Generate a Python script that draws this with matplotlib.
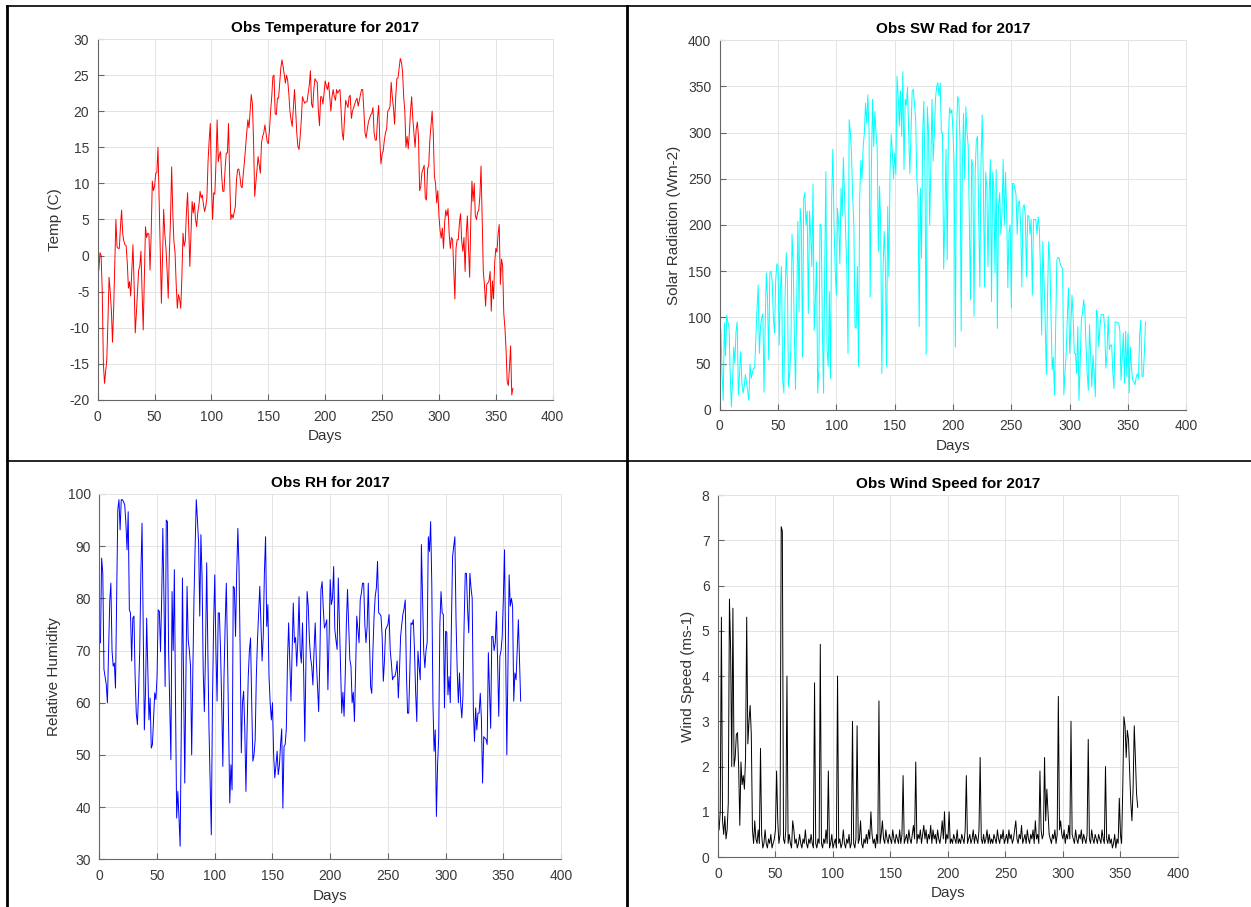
import numpy as np
import matplotlib
matplotlib.use("Agg")
import matplotlib.pyplot as plt
from matplotlib.lines import Line2D

plt.rcParams['font.family'] = ['Liberation Sans', 'DejaVu Sans']
plt.rcParams['axes.unicode_minus'] = False

temp = [
    -2, 0.4, 0, -5, -15, -17.7, -16, -14.4, -9, -3,
    -5, -7.5, -12, -7.5, -1, 5, 1.2, 1, 1, 4,
    6.3, 3, 2, 1.5, 1.4, -1, -4.5, -3.6, -5.6, -2,
    1.5, -4, -10.7, -8, -5, -2, -1.5, 0.6, -5, -10.3,
    -3, 4, 2.5, 3.1, 3, -2, 3, 10.3, 9, 9.6,
    11.4, 11.5, 15, 7.7, 1, -6.6, 0, 6.4, 3, 1,
    -2, -5.9, 0.4, 5, 12.3, 6, 2, 0.4, -4, -7.3,
    -5.4, -6, -7.3, -3, 3.1, 1.3, 2, 6, 8.7, 4,
    -1.5, 3, 7.5, 5.9, 7.3, 5, 4, 6, 7, 8.9,
    8, 8.4, 7, 6.1, 6.8, 8, 13, 16, 18.3, 10,
    5, 8.7, 8.5, 13, 18.8, 13, 14, 14.4, 11, 8.9,
    8.9, 12, 14.2, 14.2, 18.3, 11, 5, 5.7, 5.2, 6,
    6.8, 10.5, 11.9, 12, 11, 9.6, 9.4, 11.4, 13, 15.1,
    17, 18.8, 17.7, 20, 22.3, 21, 16, 8.2, 10, 11.9,
    13.7, 12.5, 11.4, 15.6, 16.5, 17, 18.1, 17, 15.8, 15.5,
    17.4, 20, 22, 24.8, 25, 19.7, 19.5, 21.8, 21.8, 24,
    26, 27.1, 26.2, 25, 23.9, 25, 24.3, 22.5, 20, 18.8,
    17.9, 20.5, 23, 20.2, 17, 15.1, 14.7, 16.5, 18.8, 22,
    21.5, 21.1, 21.3, 21.3, 22.5, 23.6, 25.6, 21, 20.5, 23,
    24.5, 24.2, 24, 20, 18, 22, 22, 21, 22.5, 24.2,
    23.5, 23, 24, 22, 20, 22, 23, 22, 21.5, 23,
    22.5, 22.8, 23, 20, 17, 16, 19, 21.5, 21, 20.5,
    22, 22.2, 19, 20, 20.5, 21, 21.5, 21.8, 20.7, 21.5,
    22.3, 23, 23, 20, 17, 16.3, 17.5, 18.5, 19, 19.5,
    19.7, 20.5, 17, 16, 16, 19, 20.8, 16, 12.7, 14,
    14.5, 16, 17, 17.5, 20, 20.2, 20.7, 24, 22, 20.5,
    18.2, 22, 24.5, 24.6, 26, 27.3, 26.8, 25.5, 22, 20,
    15, 16.5, 14.8, 17, 20, 22, 19, 17, 15, 17.5,
    18.5, 16.5, 9, 9.5, 11.5, 12, 12.5, 8, 7.7, 12,
    12.5, 16, 18, 20, 17, 11, 10, 7.3, 9, 5.5,
    3.5, 2.4, 3.8, 1, 4.5, 6.3, 5.5, 6.5, 3, 1,
    2.5, 2.2, -2, -6, 1, 2.2, 2.2, 4.5, 5.8, 2,
    0.6, 2.5, -2.2, 3, 5.5, 1, -3, 5, 10.3, 7.5,
    10, 5.5, 5, 6, 6.3, 8.3, 12.4, 5, -2.2, -4,
    -7, -4, -3.8, -3.5, -2.2, -7.7, -3.5, -6, -1, 1,
    0.5, 3, 4.3, -4, -0.5, -1.4, -8, -10, -13, -17.5,
    -18, -15.5, -12.5, -19.3, -18.4,
]

swrad = [
    87, 40, 10, 94, 58, 102, 95, 90, 40, 3,
    30, 68, 50, 85, 95, 16, 40, 63, 30, 18,
    25, 38, 30, 20, 10, 49, 34, 40, 45, 45,
    79, 110, 135, 61, 90, 100, 104, 19, 95, 148,
    120, 54, 148, 150, 139, 100, 83, 140, 158, 155,
    70, 130, 155, 32, 18, 120, 170, 140, 25, 40,
    65, 190, 160, 80, 22, 115, 204, 106, 218, 200,
    57, 229, 235, 200, 215, 104, 215, 190, 155, 244,
    86, 118, 160, 18, 43, 201, 200, 90, 18, 150,
    258, 65, 47, 128, 34, 230, 282, 200, 150, 124,
    218, 200, 158, 240, 210, 273, 230, 190, 151, 61,
    314, 300, 277, 230, 200, 90, 88, 155, 47, 230,
    270, 250, 285, 300, 332, 310, 341, 303, 122, 260,
    336, 285, 323, 300, 283, 171, 242, 200, 39, 150,
    193, 160, 47, 220, 144, 256, 298, 280, 250, 278,
    255, 361, 340, 307, 345, 296, 366, 260, 336, 330,
    349, 300, 256, 300, 345, 347, 330, 314, 250, 229,
    90, 240, 164, 300, 334, 250, 60, 328, 300, 200,
    264, 336, 269, 300, 337, 350, 354, 340, 354, 300,
    300, 152, 206, 282, 162, 290, 327, 321, 325, 300,
    264, 68, 300, 339, 336, 290, 85, 264, 321, 250,
    328, 300, 286, 200, 119, 271, 264, 101, 257, 292,
    296, 210, 133, 267, 319, 250, 133, 257, 240, 155,
    235, 271, 117, 257, 240, 148, 260, 88, 221, 235,
    190, 213, 271, 200, 257, 213, 132, 192, 200, 110,
    245, 245, 240, 233, 190, 224, 226, 200, 133, 219,
    222, 210, 144, 210, 210, 190, 206, 124, 206, 206,
    206, 190, 209, 196, 150, 81, 182, 140, 97, 38,
    120, 182, 162, 100, 43, 57, 16, 90, 162, 165,
    164, 157, 155, 152, 16, 40, 61, 100, 132, 61,
    90, 124, 100, 61, 61, 39, 90, 10, 50, 97,
    105, 119, 108, 70, 39, 21, 92, 60, 25, 59,
    40, 14, 108, 101, 68, 90, 103, 103, 103, 90,
    45, 60, 101, 65, 70, 70, 40, 23, 95, 95,
    94, 94, 86, 32, 55, 83, 29, 85, 36, 83,
    18, 68, 45, 32, 30, 27, 35, 39, 34, 81,
    97, 36, 36, 60, 95,
]

rh = [
    71.5, 87.7, 84.8, 66.4, 65, 63.5, 60, 70, 79.4, 82.9,
    70, 67, 67.6, 62.8, 80, 97, 98.9, 93.1, 98.9, 98.9,
    98.5, 97.9, 94.5, 89.3, 96.6, 77.8, 77.2, 68, 76.2, 76.6,
    65, 58, 55.8, 62, 70, 85, 94.4, 75, 54.8, 62,
    76.2, 66, 56.7, 60.9, 51.3, 52, 57, 61.9, 60.6, 65,
    77.8, 77.5, 69.8, 80, 93.4, 80, 63.1, 95, 94.7, 70,
    60, 49.1, 81.3, 70, 85.5, 60, 37.9, 43, 38, 32.5,
    55, 83.9, 65, 44.6, 65, 82.3, 72, 70, 67, 50,
    66, 80, 90, 98.9, 95, 90.6, 76.6, 92.2, 84, 66,
    58.3, 70, 86.8, 70, 55, 45, 34.7, 60, 75, 84.5,
    70, 60.3, 77.2, 77.2, 70, 60, 47.8, 65, 75, 82.9,
    70, 55, 40.8, 48.1, 43.3, 82.3, 82, 72.7, 85, 93.4,
    86, 70, 50.4, 60, 62.2, 55, 43, 55, 65, 70,
    72.4, 60, 48.8, 50, 52.9, 65, 72, 77.2, 82.3, 75,
    68, 72.7, 85, 91.8, 74.6, 78.8, 65, 60, 56.7, 60,
    50, 45.6, 48, 50.7, 46.2, 48, 52, 55, 39.8, 51.6,
    52, 55, 68, 75.3, 68, 60.3, 70, 79.1, 71.5, 72.5,
    67, 72, 80.3, 70, 67.6, 75.3, 66, 52.6, 68, 81.3,
    78.5, 72, 68.6, 67, 63.4, 70, 75.3, 68, 63, 58.3,
    68, 81.7, 83.2, 78, 74.3, 75, 75.9, 62.5, 72, 83.6,
    78.8, 80, 86.1, 74, 72, 70.2, 83.9, 75, 66, 58,
    62, 57.4, 65, 75, 81.7, 75, 68.3, 67, 60, 62,
    56.4, 66, 76.6, 74, 71.5, 79.7, 81, 82.9, 82.9, 75,
    71.5, 74.6, 82.9, 72, 63.1, 61.8, 70, 76.6, 80.4, 82,
    87.1, 77.2, 77, 76.6, 72.7, 64.1, 68, 74, 74.5, 75,
    76.9, 70, 67.6, 64.4, 65, 65, 66, 68, 60.9, 66,
    72.7, 75, 77, 78, 79.7, 66, 58, 58, 66, 75.3,
    75, 75.9, 70.2, 62, 56.4, 69.9, 67, 64.4, 90.3, 79.7,
    70, 66.7, 70, 71.5, 91.8, 89, 94.7, 82.9, 60, 50.7,
    54.8, 38.2, 48, 53.5, 75, 81.3, 77.2, 76.9, 59, 73.7,
    73.5, 61.5, 65, 60, 75, 88, 90, 91.8, 75.9, 66.3,
    60, 65.7, 60, 57.1, 61.2, 75, 84.8, 84.8, 78, 73.4,
    84.8, 82, 80, 58.7, 52.6, 59, 54.8, 58, 58, 61.8,
    56.7, 44.6, 53.5, 53.2, 53, 52, 69.6, 62, 55.1, 72.7,
    72.7, 70, 71.5, 77.5, 68, 57.4, 68.9, 70, 72.7, 80,
    89.3, 70, 50, 68, 84.5, 78.5, 80, 78.5, 60.3, 65.7,
    64.4, 70, 75.9, 68, 60.3,
]

wind = [
    0.6, 1.0, 5.3, 0.8, 0.5, 0.9, 0.4, 0.6, 1.2, 5.7,
    4.6, 2.0, 5.5, 2.0, 2.2, 2.7, 2.75, 2.0, 0.7, 2.1,
    1.6, 1.8, 1.5, 2.2, 5.3, 2.5, 3.0, 3.35, 2.7, 0.6,
    0.3, 0.8, 0.4, 0.3, 0.6, 0.3, 2.4, 0.5, 0.2, 0.3,
    0.6, 0.3, 0.2, 0.4, 0.3, 0.5, 0.2, 0.3, 0.4, 0.6,
    1.9, 0.8, 0.3, 0.5, 7.3, 7.2, 0.4, 0.3, 0.6, 4.0,
    0.3, 0.5, 0.3, 0.2, 0.8, 0.6, 0.3, 0.4, 0.2, 0.3,
    0.5, 0.3, 0.2, 0.4, 0.3, 0.6, 0.3, 0.2, 0.4, 0.3,
    0.5, 0.3, 0.2, 3.85, 0.3, 0.2, 0.4, 0.3, 4.7, 0.3,
    0.2, 0.4, 0.3, 0.6, 0.3, 1.9, 0.2, 0.3, 0.5, 0.2,
    0.3, 0.4, 0.2, 4.0, 0.3, 0.4, 0.2, 0.3, 0.6, 0.3,
    0.2, 0.4, 0.3, 0.5, 0.2, 0.3, 3.0, 0.3, 0.2, 0.4,
    2.9, 0.3, 0.4, 0.8, 0.3, 0.2, 0.4, 0.3, 0.5, 0.3,
    0.6, 0.4, 1.0, 0.5, 0.3, 0.4, 0.2, 0.5, 0.3, 3.45,
    0.3, 0.5, 0.8, 0.4, 0.3, 0.6, 0.4, 0.3, 0.5, 0.4,
    0.3, 0.6, 0.4, 0.3, 0.5, 0.4, 0.3, 0.6, 0.3, 0.5,
    1.8, 0.3, 0.4, 0.5, 0.3, 0.6, 0.4, 0.3, 0.5, 0.7,
    0.4, 2.1, 0.3, 0.5, 0.4, 0.6, 0.3, 0.5, 0.7, 0.4,
    0.6, 0.3, 0.5, 0.4, 0.7, 0.3, 0.6, 0.4, 0.5, 0.3,
    0.6, 0.4, 0.3, 0.5, 0.8, 0.4, 1.0, 0.3, 0.5, 0.4,
    1.0, 0.3, 0.4, 0.3, 0.5, 0.4, 0.3, 0.6, 0.3, 0.4,
    0.3, 0.5, 0.4, 0.3, 0.6, 1.8, 0.3, 0.4, 0.5, 0.3,
    0.4, 0.6, 0.3, 0.5, 0.4, 0.3, 0.6, 2.2, 0.4, 0.3,
    0.5, 0.3, 0.4, 0.6, 0.3, 0.5, 0.3, 0.4, 0.3, 0.5,
    0.4, 0.3, 0.6, 0.4, 0.3, 0.5, 0.4, 0.6, 0.3, 0.4,
    0.5, 0.3, 0.6, 0.4, 0.5, 0.3, 0.4, 0.6, 0.8, 0.4,
    0.3, 0.5, 0.4, 0.7, 0.3, 0.4, 0.5, 0.3, 0.6, 0.4,
    0.3, 0.5, 0.4, 0.6, 0.3, 0.8, 0.4, 0.5, 0.3, 1.9,
    0.6, 0.4, 0.5, 2.2, 0.8, 1.5, 1.0, 0.5, 0.4, 0.3,
    0.5, 0.4, 0.6, 0.3, 0.5, 3.55, 0.6, 0.8, 0.5, 0.4,
    0.6, 0.3, 0.5, 0.4, 0.7, 0.4, 3.0, 0.5, 0.4, 0.3,
    0.6, 0.4, 0.3, 0.5, 0.4, 0.6, 0.3, 0.5, 0.4, 0.3,
    0.5, 2.6, 0.4, 0.3, 0.6, 0.4, 0.3, 0.5, 0.4, 0.3,
    0.5, 0.4, 0.3, 0.6, 0.4, 0.3, 2.0, 0.4, 0.3, 0.5,
    0.3, 0.4, 0.2, 0.3, 0.5, 0.2, 0.4, 0.3, 1.3, 0.5,
    0.3, 1.5, 3.1, 2.9, 2.2, 2.8, 2.6, 1.9, 1.2, 0.8,
    1.5, 2.9, 2.2, 1.4, 1.1,
]

fig = plt.figure(figsize=(12.51, 9.07), dpi=100)


def panel(rect, vals, color, title, ylabel, ylim, ystep):
    ax = fig.add_axes(rect)
    days = np.arange(1, len(vals) + 1)
    ax.plot(days, vals, color=color, lw=0.7)
    ax.set_xlim(0, 400)
    ax.set_ylim(*ylim)
    ax.set_xticks(np.arange(0, 401, 50))
    ax.set_yticks(np.arange(ylim[0], ylim[1] + ystep / 2, ystep))
    ax.grid(True, color='#e3e3e3', lw=0.7)
    ax.set_axisbelow(True)
    for s in ['top', 'right']:
        ax.spines[s].set_color('#e3e3e3')
        ax.spines[s].set_linewidth(0.7)
    for s in ['left', 'bottom']:
        ax.spines[s].set_color('#666666')
        ax.spines[s].set_linewidth(0.8)
    ax.tick_params(direction='in', length=4, width=0.8, color='#666666',
                   labelsize=10, labelcolor='#3a3a3a', top=False, right=False)
    ax.tick_params(axis='x', pad=7)
    ax.tick_params(axis='y', pad=6)
    ax.set_title(title, fontsize=11, fontweight='bold', pad=5)
    ax.set_xlabel('Days', fontsize=11, color='#333333', labelpad=4)
    ax.set_ylabel(ylabel, fontsize=11, color='#333333', labelpad=5)
    return ax


panel([0.0781, 0.5590, 0.3637, 0.3980], temp, 'red',
      'Obs Temperature for 2017', 'Temp (C)', (-20, 30), 5)
panel([0.5753, 0.5483, 0.3730, 0.4073], swrad, 'cyan',
      'Obs SW Rad for 2017', 'Solar Radiation (Wm-2)', (0, 400), 50)
panel([0.0794, 0.0526, 0.3691, 0.4028], rh, 'blue',
      'Obs RH for 2017', 'Relative Humidity', (30, 100), 10)
panel([0.5739, 0.0551, 0.3677, 0.3991], wind, 'black',
      'Obs Wind Speed for 2017', 'Wind Speed (ms-1)', (0, 8), 1)

# table borders around the four panels
W, H = 1251.0, 907.0
borders = [
    ((7, 1251), (6, 6), 1.2),
    ((7, 7), (6, 907), 2.0),
    ((627, 627), (6, 907), 2.0),
    ((7, 1251), (461, 461), 1.2),
]
for xs, ys, lw in borders:
    fig.add_artist(Line2D([x / W for x in xs], [1 - y / H for y in ys],
                          color='black', lw=lw, transform=fig.transFigure))

fig.savefig('out.png', dpi=100)
